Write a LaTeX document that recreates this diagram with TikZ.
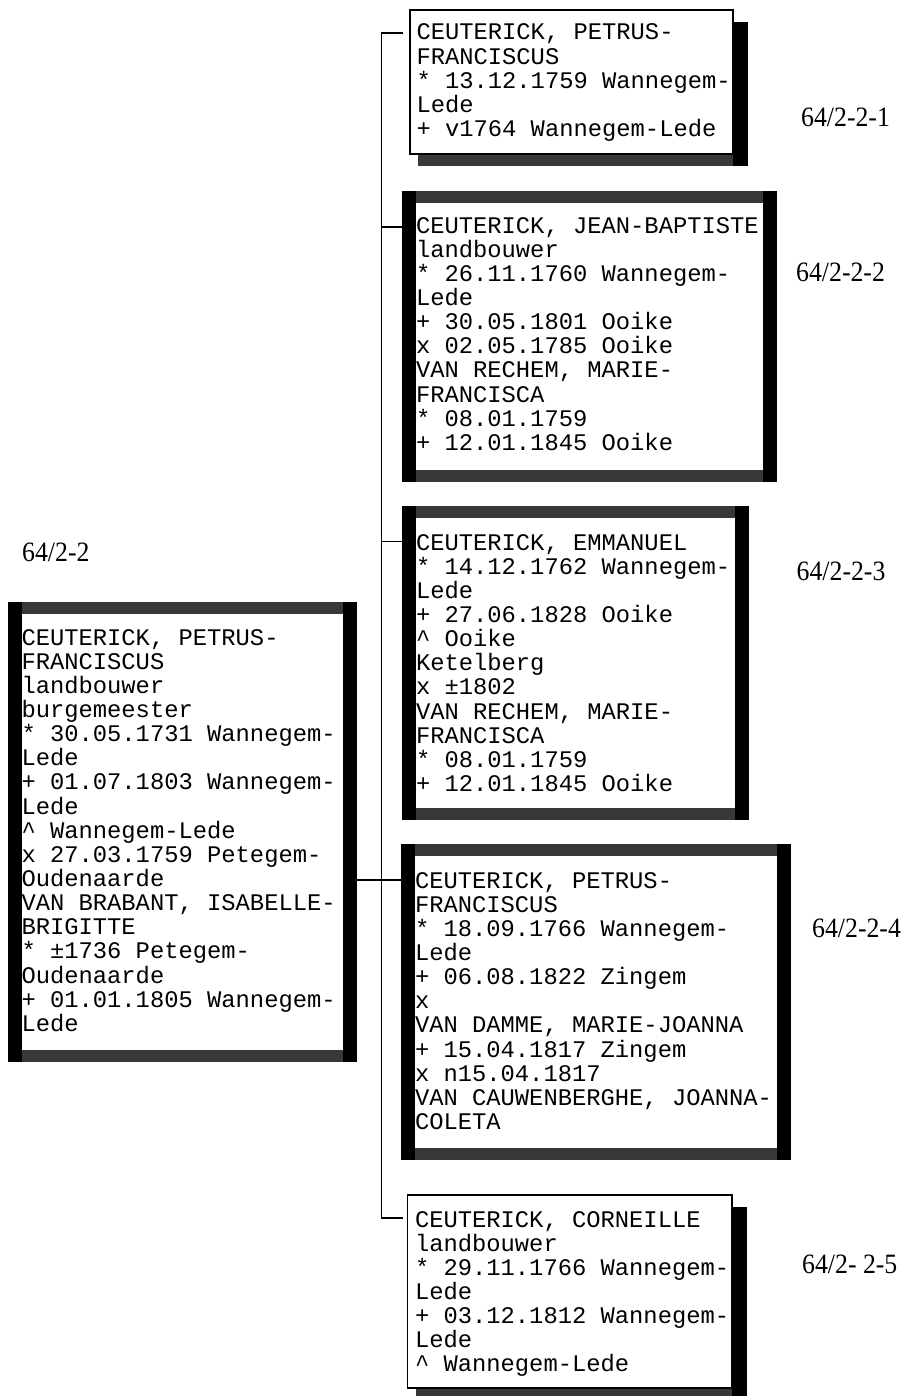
\documentclass[tikz,border=0pt]{standalone}
\usepackage{fontspec}
\setmonofont{Liberation Mono}
\newfontfamily\labelfont[FakeStretch=0.92]{Liberation Serif}
\usetikzlibrary{fit}
\definecolor{bordergray}{gray}{0.22}
\tikzset{
  conn/.style={draw=black, line width=1.2pt},
  area/.style={inner sep=0pt, outer sep=0pt, draw=none},
  txt/.style={font=\ttfamily\fontsize{23.8}{24.15}\selectfont, align=left, inner sep=0pt, outer sep=0pt, anchor=north west},
  lbl/.style={font=\labelfont\fontsize{28}{30}\selectfont, inner sep=0pt, anchor=base west},
  thinframe/.style={fill=white, draw=black, line width=1.3pt},
}
% thick-bordered box: name, corner, corner, text name, text x, first baseline, text
\newcommand\thickbox[7]{%
  \node[area, fit={#2 #3}] (#1) {};
  \fill[bordergray] (#1.north west) rectangle (#1.south east);
  \fill[black] (#1.north east) rectangle ([xshift=-14pt]#1.south east);
  \fill[white] ([shift={(14pt,-12pt)}]#1.north west) rectangle ([shift={(-14pt,12pt)}]#1.south east);
  \node[txt] (#4) at (#5,#6-18) {\rule{0pt}{18pt}#7};
  \fill[black] (#1.north west) rectangle ([xshift=14pt]#1.south west);
}
% thin box with drop shadow: name, corner, corner, text name, text x, first baseline, text
\newcommand\thinbox[7]{%
  \node[area, fit={#2 #3}] (#1) {};
  \fill[bordergray] ([shift={(8pt,-12pt)}]#1.north west) rectangle ([shift={(15pt,-12pt)}]#1.south east);
  \fill[black] ([shift={(0pt,-12pt)}]#1.north east) rectangle ([shift={(15pt,-12pt)}]#1.south east);
  \path[thinframe] (#1.north west) rectangle (#1.south east);
  \node[txt] (#4) at (#5,#6-18) {\rule{0pt}{18pt}#7};
}
\begin{document}
\begin{tikzpicture}[x=1pt,y=-1pt]
\useasboundingbox[fill=white] (0,0) rectangle (903,1396);

% boxes
\thinbox{b1}{(410,10)}{(733,154)}{t1}{416.5}{40}{%
CEUTERICK, PETRUS-\\
FRANCISCUS\\
* 13.12.1759 Wannegem-\\
Lede\\
+ v1764 Wannegem-Lede}

\thickbox{b2}{(402,191)}{(777,482)}{t2}{416}{233}{%
CEUTERICK, JEAN-BAPTISTE\\
landbouwer\\
* 26.11.1760 Wannegem-\\
Lede\\
+ 30.05.1801 Ooike\\
x 02.05.1785 Ooike\\
VAN RECHEM, MARIE-\\
FRANCISCA\\
* 08.01.1759\\
+ 12.01.1845 Ooike}

\thickbox{b3}{(402,506)}{(749,820)}{t3}{416}{550}{%
CEUTERICK, EMMANUEL\\
* 14.12.1762 Wannegem-\\
Lede\\
+ 27.06.1828 Ooike\\
\^{} Ooike\\
Ketelberg\\
x ±1802\\
VAN RECHEM, MARIE-\\
FRANCISCA\\
* 08.01.1759\\
+ 12.01.1845 Ooike}

\thickbox{b4}{(401,844)}{(791,1160)}{t4}{415}{888}{%
CEUTERICK, PETRUS-\\
FRANCISCUS\\
* 18.09.1766 Wannegem-\\
Lede\\
+ 06.08.1822 Zingem\\
x\\
VAN DAMME, MARIE-JOANNA\\
+ 15.04.1817 Zingem\\
x n15.04.1817\\
VAN CAUWENBERGHE, JOANNA-\\
COLETA}

\thinbox{b5}{(407.5,1195)}{(732,1388)}{t5}{415}{1227}{%
CEUTERICK, CORNEILLE\\
landbouwer\\
* 29.11.1766 Wannegem-\\
Lede\\
+ 03.12.1812 Wannegem-\\
Lede\\
\^{} Wannegem-Lede}

\thickbox{b0}{(8,602)}{(357,1062)}{t0}{21.5}{645}{%
CEUTERICK, PETRUS-\\
FRANCISCUS\\
landbouwer\\
burgemeester\\
* 30.05.1731 Wannegem-\\
Lede\\
+ 01.07.1803 Wannegem-\\
Lede\\
\^{} Wannegem-Lede\\
x 27.03.1759 Petegem-\\
Oudenaarde\\
VAN BRABANT, ISABELLE-\\
BRIGITTE\\
* ±1736 Petegem-\\
Oudenaarde\\
+ 01.01.1805 Wannegem-\\
Lede}

% connectors
\coordinate (spT) at (381.5,33);
\coordinate (spB) at (381.5,1218);
\coordinate (y2) at (381.5,227);
\coordinate (y3) at (381.5,541.5);
\coordinate (y4) at (381.5,880);
\draw[conn, shorten <=7pt, shorten >=4.5pt] (b1.west |- spT) -- (spT) -- (spB) -- (b5.west |- spB);
\draw[conn] (y2) -- (b2.west |- y2);
\draw[conn] (y3) -- (b3.west |- y3);
\draw[conn] (b0.east |- y4) -- (b4.west |- y4);

% labels
\node[lbl] (l1) at (801,126.5) {64/2-2-1};
\node[lbl] (l2) at (796,282) {64/2-2-2};
\node[lbl] (l3) at (796.5,580) {64/2-2-3};
\node[lbl] (l4) at (812,937) {64/2-2-4};
\node[lbl] (l5) at (802,1273) {64/2- 2-5};
\node[lbl] (l0) at (22,561.5) {64/2-2};
\end{tikzpicture}
\end{document}
